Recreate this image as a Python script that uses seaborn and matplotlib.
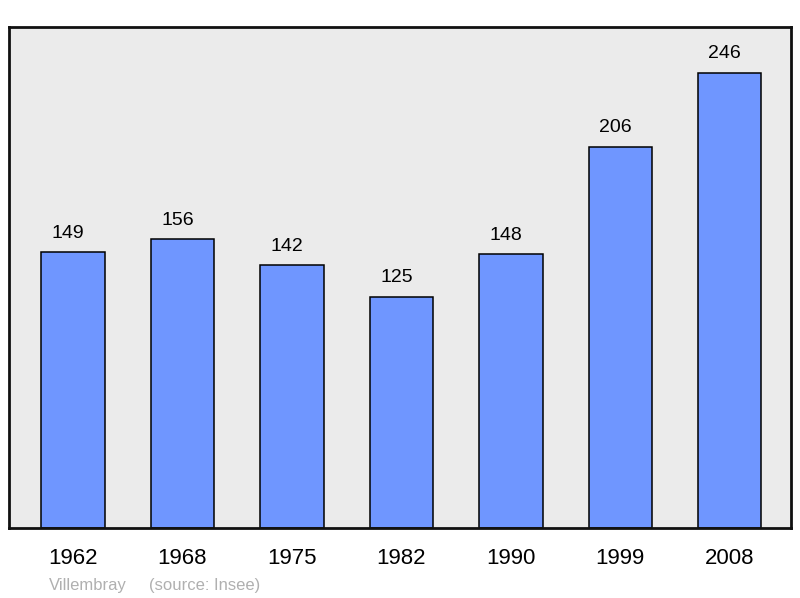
import matplotlib
matplotlib.use("Agg")
import matplotlib.pyplot as plt
import seaborn as sns
import pandas as pd

years = ["1962", "1968", "1975", "1982", "1990", "1999", "2008"]
population = [149, 156, 142, 125, 148, 206, 246]
commune = "Villembray"
source = "(source: Insee)"

sns.set_theme(style="white")
plt.rcParams['font.family'] = ['Liberation Sans', 'DejaVu Sans']

df = pd.DataFrame({"year": years, "pop": population})

fig = plt.figure(figsize=(8, 5.98), dpi=100)
ax = fig.add_axes([9/800, 70/598, 782/800, 501/598])
ax.set_facecolor("#ebebeb")

sns.barplot(data=df, x="year", y="pop", ax=ax, color="#6f96ff", saturation=1,
            width=0.58, edgecolor="black", linewidth=1.1)

for i, v in enumerate(population):
    ax.annotate(str(v), (i, v), xytext=(-3.6, 10.4), textcoords="offset points",
                ha="center", va="baseline", fontsize=14, color="black")

ax.set_ylim(0, 270.8)
ax.set_xlim(-0.585, 6.56)
ax.set_xlabel("")
ax.set_ylabel("")
ax.set_yticks([])
ax.tick_params(axis="x", length=0, labelsize=16, pad=14.2, colors="black")
for s in ax.spines.values():
    s.set_visible(True)
    s.set_color("#111111")
    s.set_linewidth(2)

fig.text(49/800, 1 - 590/598, commune, fontsize=12, color="#b0b0b0", va="baseline", ha="left")
fig.text(149/800, 1 - 590/598, source, fontsize=12, color="#b0b0b0", va="baseline", ha="left")

fig.savefig("out.png", dpi=100)
